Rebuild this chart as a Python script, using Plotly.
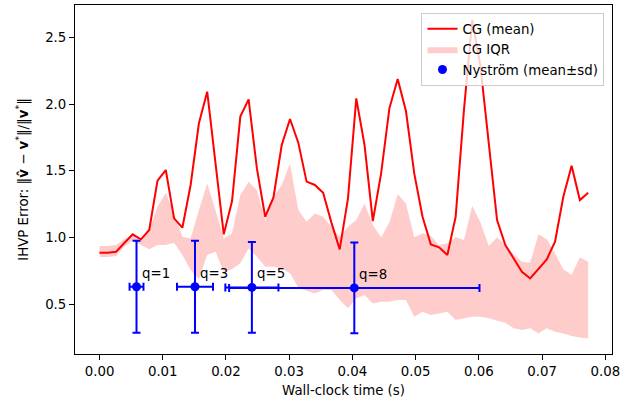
import plotly.graph_objects as go

# CG curve (mean and IQR) vs wall-clock time
cg_time = [0.0, 0.00131, 0.00262, 0.00393, 0.00524, 0.00655, 0.00786, 0.00917, 0.01048, 0.01179,
           0.0131, 0.01441, 0.01572, 0.01703, 0.01834, 0.01965, 0.02096, 0.02227, 0.02358, 0.02489,
           0.0262, 0.02751, 0.02882, 0.03013, 0.03144, 0.03275, 0.03406, 0.03537, 0.03668, 0.03799,
           0.0393, 0.04061, 0.04192, 0.04323, 0.04454, 0.04585, 0.04716, 0.04847, 0.04978, 0.05109,
           0.0524, 0.05371, 0.05502, 0.05633, 0.05764, 0.05895, 0.06026, 0.06157, 0.06288, 0.06419,
           0.0655, 0.06681, 0.06812, 0.06943, 0.07074, 0.07205, 0.07336, 0.07467, 0.07598, 0.07729]
cg_mean = [0.887, 0.887, 0.894, 0.957, 1.024, 0.987, 1.057, 1.426, 1.506, 1.144,
           1.074, 1.394, 1.856, 2.093, 1.556, 1.024, 1.274, 1.906, 2.035, 1.518,
           1.156, 1.301, 1.693, 1.888, 1.711, 1.419, 1.394, 1.336, 1.112, 0.912,
           1.294, 2.043, 1.693, 1.124, 1.481, 1.968, 2.188, 1.948, 1.481, 1.156,
           0.949, 0.927, 0.869, 1.156, 1.955, 2.630, 2.280, 1.681, 1.131, 0.944,
           0.844, 0.744, 0.694, 0.762, 0.837, 0.969, 1.306, 1.538, 1.281, 1.336]
cg_q75 = [0.937, 0.937, 0.944, 0.987, 1.019, 0.994, 1.057, 1.231, 1.336, 1.181,
          1.007, 0.994, 1.206, 1.406, 1.206, 0.994, 1.032, 1.319, 1.419, 1.356,
          1.131, 1.306, 1.394, 1.556, 1.206, 1.119, 1.181, 1.156, 1.082, 1.007,
          1.082, 1.131, 1.256, 1.094, 1.002, 1.112, 1.326, 1.256, 1.002, 1.032,
          1.012, 0.944, 0.957, 1.002, 0.982, 1.239, 1.112, 0.937, 1.002, 0.944,
          0.877, 0.819, 0.812, 1.024, 0.987, 0.882, 0.762, 0.719, 0.852, 0.819]
cg_q25 = [0.854, 0.854, 0.862, 0.932, 0.977, 0.944, 0.912, 0.944, 0.944, 0.962,
          0.869, 0.757, 0.687, 0.869, 0.894, 0.744, 0.762, 0.807, 0.919, 0.857,
          0.782, 0.782, 0.769, 0.732, 0.627, 0.602, 0.582, 0.607, 0.607, 0.532,
          0.470, 0.545, 0.570, 0.507, 0.520, 0.520, 0.532, 0.532, 0.407, 0.445,
          0.420, 0.432, 0.445, 0.382, 0.395, 0.407, 0.407, 0.395, 0.377, 0.362,
          0.320, 0.307, 0.320, 0.282, 0.320, 0.295, 0.282, 0.262, 0.252, 0.245]

# Nystrom points
ny_labels = ["q=1", "q=3", "q=5", "q=8"]
ny_time = [0.00585, 0.0151, 0.0241, 0.0403]
ny_time_sd = [0.0011, 0.00285, 0.0042, 0.0198]
ny_err = [0.632, 0.632, 0.627, 0.623]
ny_err_sd = [0.344, 0.344, 0.339, 0.340]

x_ticks = [0.0, 0.01, 0.02, 0.03, 0.04, 0.05, 0.06, 0.07, 0.08]
y_ticks = [0.5, 1.0, 1.5, 2.0, 2.5]

FONT = "DejaVu Sans"
fs = 13.33

fig = go.Figure()

fig.add_trace(go.Scatter(x=cg_time, y=cg_q25, mode="lines", line=dict(width=0, color="rgba(255,0,0,0)"),
                         showlegend=False, hoverinfo="skip", legendgroup="iqr"))
fig.add_trace(go.Scatter(x=cg_time, y=cg_q75, mode="lines", line=dict(width=0, color="rgba(255,0,0,0)"),
                         fill="tonexty", fillcolor="rgba(255,0,0,0.2)", name="CG IQR",
                         legendgroup="iqr", legendrank=2))
fig.add_trace(go.Scatter(x=cg_time, y=cg_mean, mode="lines", line=dict(color="red", width=2),
                         name="CG (mean)", legendgroup="mean", legendrank=1))
fig.add_trace(go.Scatter(x=ny_time, y=ny_err, mode="markers",
                         marker=dict(color="blue", size=9),
                         error_x=dict(type="data", array=ny_time_sd, color="blue", thickness=2, width=4),
                         error_y=dict(type="data", array=ny_err_sd, color="blue", thickness=2, width=4),
                         name="Nyström (mean±sd)", legendgroup="ny", legendrank=3))

for lab, xt, ye in zip(ny_labels, ny_time, ny_err):
    fig.add_annotation(x=xt, y=ye, xref="x", yref="y", text=lab, showarrow=False,
                       xanchor="left", yanchor="bottom", xshift=3, yshift=4,
                       font=dict(family=FONT, size=fs, color="black"))

ytitle = ("IHVP Error: ‖<b>v\u0302</b> − <b>v</b><sup>*</sup>‖/‖<b>v</b><sup>*</sup>‖")

fig.update_layout(
    width=638, height=402,
    margin=dict(l=75, r=26, t=5, b=48),
    paper_bgcolor="white", plot_bgcolor="white",
    font=dict(family=FONT, size=fs, color="black"),
    showlegend=True,
    legend=dict(x=0.986, y=0.978, xanchor="right", yanchor="top",
                bgcolor="rgba(255,255,255,0.8)", bordercolor="#cccccc", borderwidth=1,
                font=dict(family=FONT, size=fs), tracegroupgap=4, traceorder="normal"),
    xaxis=dict(range=[-0.00388, 0.08106], tickvals=x_ticks, tickformat=".2f",
               showgrid=False, zeroline=False, showline=True, linecolor="black", linewidth=1,
               mirror=True, ticks="outside", ticklen=5, tickwidth=1, tickcolor="black",
               title=dict(text="Wall-clock time (s)", standoff=7, font=dict(size=fs))),
    yaxis=dict(range=[0.128, 2.742], tickvals=y_ticks, tickformat=".1f",
               showgrid=False, zeroline=False, showline=True, linecolor="black", linewidth=1,
               mirror=True, ticks="outside", ticklen=5, tickwidth=1, tickcolor="black",
               title=dict(text=ytitle, standoff=13, font=dict(size=fs))),
)

fig.write_html("out.html")
